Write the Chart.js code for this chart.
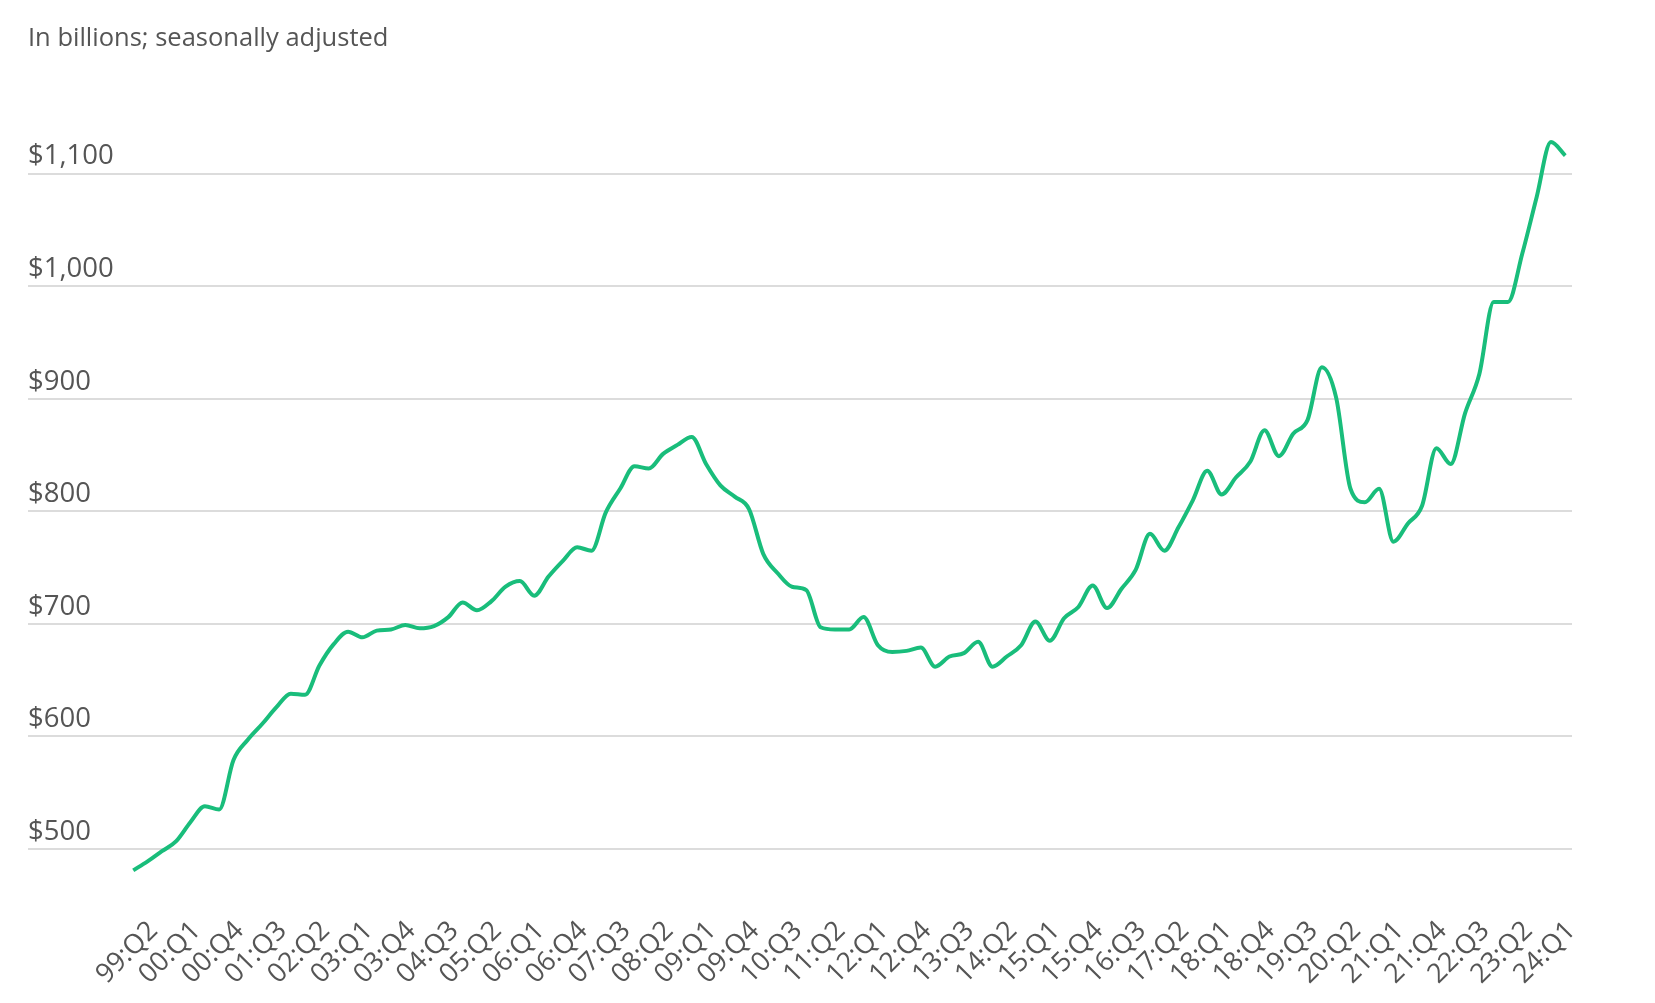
<!DOCTYPE html>
<html>
<head>
<meta charset="utf-8">
<script src="https://cdn.jsdelivr.net/npm/chart.js@4.4.1/dist/chart.umd.min.js"></script>
<style>
  html, body { margin: 0; padding: 0; background: #fff; }
  #wrap { width: 1655px; height: 1003px; position: relative; }
</style>
</head>
<body>
<div id="wrap"><canvas id="balance-chart"></canvas></div>
<script>
// quarters in the series (first one is 99:Q1, labels start at 99:Q2)
const quarters = [
  '99:Q1', '99:Q2', '99:Q3', '99:Q4',
  '00:Q1', '00:Q2', '00:Q3', '00:Q4',
  '01:Q1', '01:Q2', '01:Q3', '01:Q4',
  '02:Q1', '02:Q2', '02:Q3', '02:Q4',
  '03:Q1', '03:Q2', '03:Q3', '03:Q4',
  '04:Q1', '04:Q2', '04:Q3', '04:Q4',
  '05:Q1', '05:Q2', '05:Q3', '05:Q4',
  '06:Q1', '06:Q2', '06:Q3', '06:Q4',
  '07:Q1', '07:Q2', '07:Q3', '07:Q4',
  '08:Q1', '08:Q2', '08:Q3', '08:Q4',
  '09:Q1', '09:Q2', '09:Q3', '09:Q4',
  '10:Q1', '10:Q2', '10:Q3', '10:Q4',
  '11:Q1', '11:Q2', '11:Q3', '11:Q4',
  '12:Q1', '12:Q2', '12:Q3', '12:Q4',
  '13:Q1', '13:Q2', '13:Q3', '13:Q4',
  '14:Q1', '14:Q2', '14:Q3', '14:Q4',
  '15:Q1', '15:Q2', '15:Q3', '15:Q4',
  '16:Q1', '16:Q2', '16:Q3', '16:Q4',
  '17:Q1', '17:Q2', '17:Q3', '17:Q4',
  '18:Q1', '18:Q2', '18:Q3', '18:Q4',
  '19:Q1', '19:Q2', '19:Q3', '19:Q4',
  '20:Q1', '20:Q2', '20:Q3', '20:Q4',
  '21:Q1', '21:Q2', '21:Q3', '21:Q4',
  '22:Q1', '22:Q2', '22:Q3', '22:Q4',
  '23:Q1', '23:Q2', '23:Q3', '23:Q4',
  '24:Q1'
];

// balance in billions
const balances = [
  481, 489, 498, 507,
  524, 538, 535, 579,
  597, 611, 626, 638,
  637, 663, 682, 693,
  688, 694, 695, 699,
  696, 698, 706, 719,
  712, 720, 733, 738,
  725, 742, 756, 768,
  765, 799, 820, 840,
  838, 851, 859, 866,
  842, 823, 813, 802,
  762, 745, 733, 730,
  697, 695, 695, 706,
  681, 675, 676, 679,
  662, 671, 674, 684,
  662, 671, 681, 702,
  685, 705, 715, 734,
  714, 731, 748, 780,
  765, 786, 810, 836,
  815, 830, 844, 872,
  849, 869, 881, 928,
  901, 820, 808, 820,
  773, 789, 805, 856,
  842, 887, 922, 986,
  986, 1029, 1079, 1128,
  1116
];

// labels printed under the axis
const xTickLabels = [
  '99:Q2', '00:Q1', '00:Q4', '01:Q3', '02:Q2', '03:Q1', '03:Q4', '04:Q3',
  '05:Q2', '06:Q1', '06:Q4', '07:Q3', '08:Q2', '09:Q1', '09:Q4', '10:Q3',
  '11:Q2', '12:Q1', '12:Q4', '13:Q3', '14:Q2', '15:Q1', '15:Q4', '16:Q3',
  '17:Q2', '18:Q1', '18:Q4', '19:Q3', '20:Q2', '21:Q1', '21:Q4', '22:Q3',
  '23:Q2', '24:Q1'
];

const yTicks = [500, 600, 700, 800, 900, 1000, 1100];

const FONT = "'Open Sans', 'Noto Sans', sans-serif";
const TEXT_COLOR = '#555555';
const LINE_COLOR = '#19bd7b';
const GRID_COLOR = '#dcdcdc';

const points = balances.map((v, i) => ({ x: i, y: v }));

new Chart(document.getElementById('balance-chart'), {
  type: 'line',
  data: {
    datasets: [{
      label: 'Balance',
      data: points,
      borderColor: LINE_COLOR,
      borderWidth: 4,
      pointRadius: 0,
      fill: false,
      cubicInterpolationMode: 'monotone'
    }]
  },
  options: {
    responsive: true,
    maintainAspectRatio: false,
    animation: false,
    layout: { padding: { left: 28, right: 83, top: 0, bottom: 0 } },
    plugins: {
      legend: { display: false },
      tooltip: { enabled: false },
      title: {
        display: true,
        text: 'In billions; seasonally adjusted',
        align: 'start',
        color: TEXT_COLOR,
        font: { family: FONT, size: 25.5, weight: 'normal' },
        padding: { top: 23, bottom: 75 }
      }
    },
    scales: {
      x: {
        type: 'linear',
        min: -7.35,
        max: 100.47,
        grid: { display: false },
        border: { display: false },
        afterBuildTicks: (scale) => {
          scale.ticks = xTickLabels.map(q => ({ value: quarters.indexOf(q) }));
        },
        afterFit: (scale) => { scale.height = 109; },
        ticks: {
          autoSkip: false,
          minRotation: 45,
          maxRotation: 45,
          padding: 13,
          labelOffset: 6,
          color: TEXT_COLOR,
          font: { family: FONT, size: 27 },
          callback: (value) => quarters[value]
        }
      },
      y: {
        min: 460,
        max: 1140,
        afterBuildTicks: (scale) => {
          scale.ticks = yTicks.map(v => ({ value: v }));
        },
        grid: { color: GRID_COLOR, lineWidth: 2, drawTicks: false },
        border: { display: false },
        ticks: {
          mirror: true,
          padding: 0,
          labelOffset: -17,
          color: TEXT_COLOR,
          font: { family: FONT, size: 27.5 },
          callback: (value) => '$' + value.toLocaleString('en-US')
        }
      }
    }
  }
});
</script>
</body>
</html>
